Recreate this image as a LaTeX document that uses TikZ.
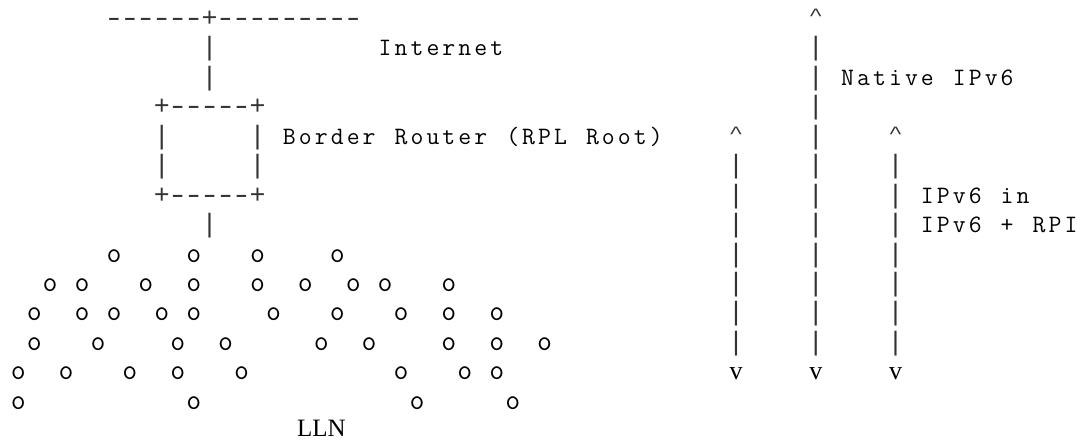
\documentclass[tikz,border=0pt]{standalone}
\usepackage{graphicx}
\usepackage{fontspec}
\newfontfamily\serifface{Liberation Serif}
\newfontfamily\symface{Liberation Mono}

% fixed-pitch grid: every character sits in a cell of equal width
\newlength\cellw
\setlength\cellw{15.95pt}
\makeatletter
\newcommand\mono[1]{\@tfor\mono@c:=#1\do{\hbox to\cellw{\hss\mono@c\hss}}}
\makeatother
\newcommand\blankcell{\hbox to\cellw{}}
\newcommand\D{\scalebox{1.3}[1]{-}}
\newcommand\caret{\hbox to\cellw{\hss\raisebox{6pt}{\scalebox{0.9}[0.65]{\textasciicircum}}\hss}}

% column / row of the character grid -> picture coordinates (pt)
\newcommand\X[1]{(10.3+15.95*(#1))}
\newcommand\Y[1]{(414.5-29.44*(#1))}

\tikzset{
  ascii/.style={inner sep=0pt, outer sep=0pt, anchor=base west, text=black,
    font=\fontsize{25}{25}\ttfamily},
  glyph/.style={inner sep=0pt, outer sep=0pt, anchor=base west, text=black!80,
    font=\fontsize{26.6}{26.6}\symface},
  dot/.style={inner sep=0pt, outer sep=0pt, anchor=base west, text=black,
    font=\fontsize{29}{29}\ttfamily},
  tipv/.style={inner sep=0pt, outer sep=0pt, anchor=base, text=black,
    font=\fontsize{26}{26}\serifface},
  cloudlabel/.style={inner sep=0pt, outer sep=0pt, anchor=base, text=black,
    font=\fontsize{25}{25}\serifface},
}

\begin{document}
\begin{tikzpicture}[x=1pt, y=1pt]
\useasboundingbox (0,0) rectangle (1085,441);

% Internet backbone and uplink of the border router
\node[glyph] (wan) at ({\X{6}},{\Y{0}}) {\mono{\D\D\D\D\D\D+\D\D\D\D\D\D\D\D\D}};
\node[glyph] (up1) at ({\X{12}},{\Y{1}}) {\mono{|}};
\node[glyph] (up2) at ({\X{12}},{\Y{2}}) {\mono{|}};
\node[ascii] (inet) at ({\X{23}},{\Y{1}}) {\mono{Internet}};

% border router box
\node[glyph] (brtop) at ({\X{9}},{\Y{3}}) {\mono{+\D\D\D\D\D+}};
\node[glyph] (brl4) at ({\X{9}},{\Y{4}}) {\mono{|}};
\node[glyph] (brr4) at ({\X{15}},{\Y{4}}) {\mono{|}};
\node[glyph] (brl5) at ({\X{9}},{\Y{5}}) {\mono{|}};
\node[glyph] (brr5) at ({\X{15}},{\Y{5}}) {\mono{|}};
\node[glyph] (brbot) at ({\X{9}},{\Y{6}}) {\mono{+\D\D\D\D\D+}};
\node[ascii] (brname) at ({\X{17}},{\Y{4}})
  {\mono{Border\blankcell Router\blankcell(RPL\blankcell Root)}};
\node[glyph] (down7) at ({\X{12}},{\Y{7}}) {\mono{|}};

% LLN nodes
\foreach \r/\cols in {8/{6,11,15,20},
                      9/{2,4,8,11,15,18,21,23,27},
                      10/{1,4,6,9,11,16,20,24,27,30},
                      11/{1,5,10,13,19,22,27,30,33},
                      12/{0,3,7,10,14,24,28,30},
                      13/{0,11,25,31}}
  \foreach \c in \cols
    \node[dot] (o-\r-\c) at ({\X{\c}},{\Y{\r}}) {\mono{o}};
\node[cloudlabel] (lln) at ({\X{19}+\cellw/2},{\Y{14}+1.8}) {LLN};

% native IPv6 arrow (col 50)
\node[glyph] (nat0) at ({\X{50}},{\Y{0}}) {\caret};
\foreach \r in {1,...,11}
  \node[glyph] (nat\r) at ({\X{50}},{\Y{\r}}) {\mono{|}};
\node[tipv] (nat12) at ({\X{50}+\cellw/2},{\Y{12}}) {v};
\node[ascii] (natlbl) at ({\X{52}},{\Y{2}}) {\mono{Native\blankcell IPv6}};

% side arrows (cols 45 and 55)
\foreach \c in {45,55}{
  \node[glyph] (tip\c) at ({\X{\c}},{\Y{4}}) {\caret};
  \foreach \r in {5,...,11}
    \node[glyph] (bar\c-\r) at ({\X{\c}},{\Y{\r}}) {\mono{|}};
  \node[tipv] (end\c) at ({\X{\c}+\cellw/2},{\Y{12}}) {v};
}
\node[ascii] (encap1) at ({\X{57}},{\Y{6}}) {\mono{IPv6\blankcell in}};
\node[ascii] (encap2) at ({\X{57}},{\Y{7}}) {\mono{IPv6\blankcell+\blankcell RPI}};
\end{tikzpicture}
\end{document}
